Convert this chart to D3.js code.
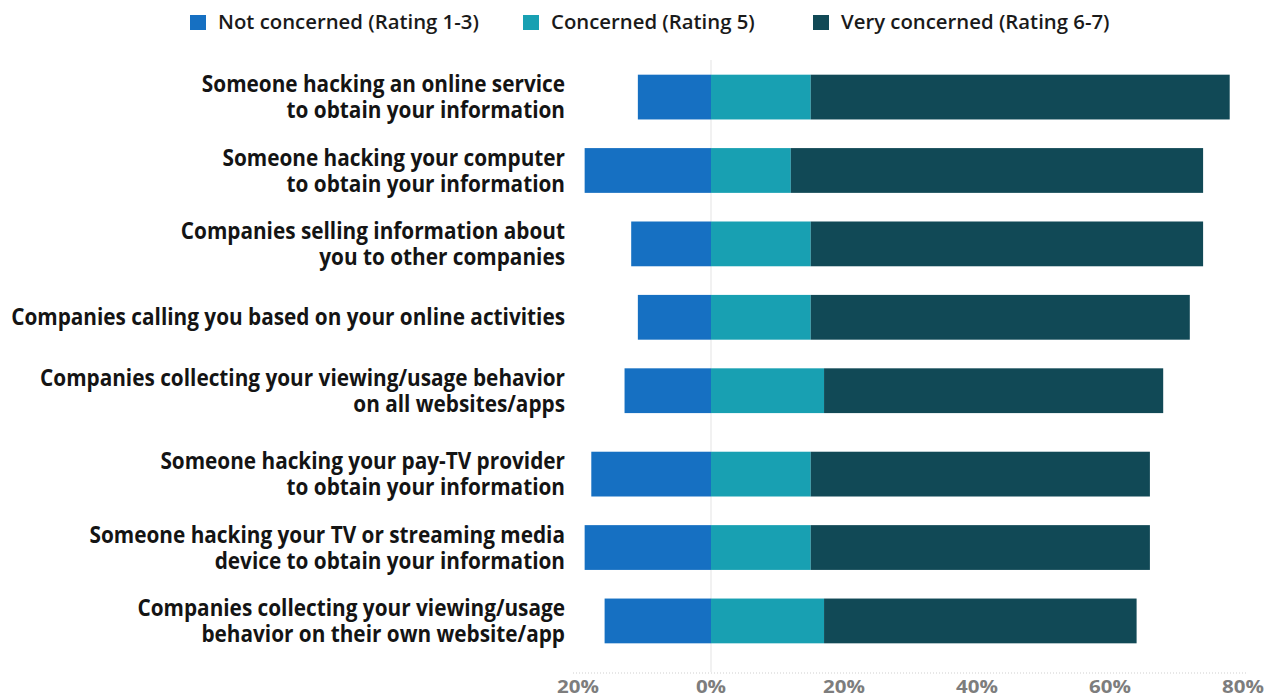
<!DOCTYPE html>
<html>
<head>
<meta charset="utf-8">
<script src="https://cdn.jsdelivr.net/npm/d3@7"></script>
<style>
  html, body { margin: 0; padding: 0; background: #ffffff; }
  svg { display: block; }
</style>
</head>
<body>
<svg id="chart" width="1281" height="698"></svg>
<script>
// Survey items (two-line labels split with "|")
const categories = [
  "Someone hacking an online service|to obtain your information",
  "Someone hacking your computer|to obtain your information",
  "Companies selling information about|you to other companies",
  "Companies calling you based on your online activities",
  "Companies collecting your viewing/usage behavior|on all websites/apps",
  "Someone hacking your pay-TV provider|to obtain your information",
  "Someone hacking your TV or streaming media|device to obtain your information",
  "Companies collecting your viewing/usage|behavior on their own website/app"
];
const seriesNames = ["Not concerned (Rating 1-3)", "Concerned (Rating 5)", "Very concerned (Rating 6-7)"];
const notConcerned  = [11, 19, 12, 11, 13, 18, 19, 16];
const concerned     = [15, 12, 15, 15, 17, 15, 15, 17];
const veryConcerned = [63, 62, 59, 57, 51, 51, 51, 47];
const tickValues = [-20, 0, 20, 40, 60, 80];

const colors = ["#1670c2", "#18a0b2", "#114956"];

const svg = d3.select("#chart");
const boldFont = "'Open Sans', 'DejaVu Sans', sans-serif";

// squeeze a text element horizontally around its anchor so it reads as a condensed face
function condense(sel, anchorX, factor) {
  sel.attr("transform", `translate(${anchorX},0) scale(${factor},1) translate(${-anchorX},0)`);
}

const x = d3.scaleLinear().domain([-20, 80]).range([578, 1243]);

// Rows: first five and last three sit in two groups with a slightly wider gap
const y = d3.scaleBand().domain(d3.range(categories.length)).range([60, 648]).paddingInner(0.39).paddingOuter(0.2);
const groupShift = i => (i >= 5 ? 10 : 0);
const rowY = i => y(i) + groupShift(i);
const bh = y.bandwidth();

// zero reference line
svg.append("line")
  .attr("x1", x(0)).attr("x2", x(0))
  .attr("y1", 60).attr("y2", 672)
  .attr("stroke", "#e3e3e3").attr("stroke-width", 1);

// dotted baseline
svg.append("line")
  .attr("x1", x(-20) - 5).attr("x2", x(80) + 5)
  .attr("y1", 673).attr("y2", 673)
  .attr("stroke", "#cfcfcf").attr("stroke-width", 1)
  .attr("stroke-dasharray", "1,2");

// bars
const g = svg.append("g");
categories.forEach((c, i) => {
  const segs = [
    { x0: -notConcerned[i], x1: 0, k: 0 },
    { x0: 0, x1: concerned[i], k: 1 },
    { x0: concerned[i], x1: concerned[i] + veryConcerned[i], k: 2 }
  ];
  g.selectAll(null).data(segs).enter().append("rect")
    .attr("x", d => x(d.x0))
    .attr("width", d => x(d.x1) - x(d.x0))
    .attr("y", rowY(i))
    .attr("height", bh)
    .attr("fill", d => colors[d.k]);
});

// category labels
const labelX = 565;
const labels = categories.map((c, i) => {
  const lines = c.split("|");
  const cy = rowY(i) + bh / 2;
  const lh = 26;
  const t = svg.append("text")
    .attr("text-anchor", "end")
    .attr("font-family", boldFont)
    .attr("font-weight", "bold")
    .attr("font-size", 23)
    .attr("fill", "#141414");
  lines.forEach((ln, j) => {
    t.append("tspan")
      .attr("x", labelX)
      .attr("y", cy + (j - (lines.length - 1) / 2) * lh)
      .attr("dy", "0.35em")
      .text(ln);
  });
  return t;
});
// the single-line label is the widest; it spans nearly to the left edge
const labelFactor = 554 / labels[3].node().getBBox().width;
labels.forEach(t => condense(t, labelX, labelFactor));

// x tick labels
const ticks = svg.selectAll(".tick").data(tickValues).enter().append("text")
  .attr("class", "tick")
  .attr("x", d => x(d))
  .attr("y", 687)
  .attr("dy", "0.35em")
  .attr("text-anchor", "middle")
  .attr("font-family", boldFont)
  .attr("font-weight", "bold")
  .attr("font-size", 18)
  .attr("fill", "#7d7d7d")
  .text(d => Math.abs(d) + "%");
const tickFactor = 42 / ticks.filter(d => d === -20).node().getBBox().width;
ticks.each(function(d) { condense(d3.select(this), x(d), tickFactor); });

// legend
const legendX = [190, 523, 813];
const legendItems = seriesNames.map((s, k) => {
  svg.append("rect")
    .attr("x", legendX[k]).attr("y", 15)
    .attr("width", 16).attr("height", 15)
    .attr("fill", colors[k]);
  const tx = legendX[k] + 28;
  return svg.append("text")
    .attr("x", tx).attr("y", 22)
    .attr("dy", "0.35em")
    .attr("font-family", boldFont)
    .attr("font-weight", 600)
    .attr("font-size", 19)
    .attr("fill", "#1a1a1a")
    .text(s);
});
const legendFactor = 261 / legendItems[0].node().getBBox().width;
legendItems.forEach((t, k) => condense(t, legendX[k] + 28, legendFactor));
</script>
</body>
</html>
